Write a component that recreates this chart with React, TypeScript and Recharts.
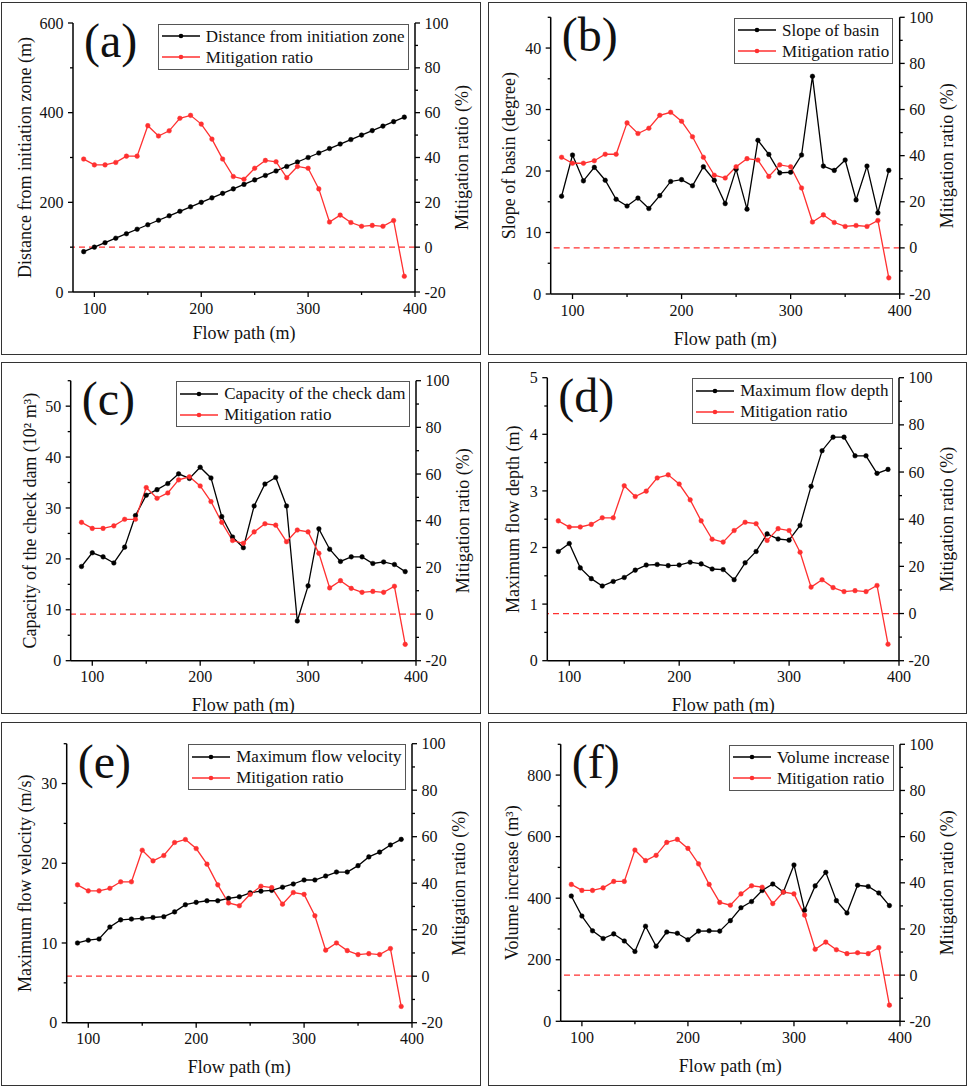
import { Line, LineChart, ReferenceLine, XAxis, YAxis } from "recharts";

const flowPath = [
  90, 100, 110, 120, 130, 140, 150, 160, 170, 180, 190, 200, 210, 220, 230, 240,
  250, 260, 270, 280, 290, 300, 310, 320, 330, 340, 350, 360, 370, 380, 390,
];
const mitigationRatio = [
  39.3, 36.7, 36.7, 37.8, 40.6, 40.6, 54.2, 49.6, 51.9, 57.5, 58.8, 54.9, 48.2,
  39.3, 31.5, 30.3, 35.2, 38.7, 38.1, 31.0, 36.0, 35.2, 26.0, 11.2, 14.3, 11.0,
  9.3, 9.7, 9.3, 11.9, -13.0,
];
const distance = [
  90, 100, 110, 120, 130, 140, 150, 160, 170, 180, 190, 200, 210, 220, 230, 240,
  250, 260, 270, 280, 290, 300, 310, 320, 330, 340, 350, 360, 370, 380, 390,
];
const slope = [
  15.9, 22.6, 18.4, 20.6, 18.5, 15.4, 14.3, 15.6, 13.9, 16.0, 18.3, 18.6, 17.6,
  20.7, 18.5, 14.7, 20.3, 13.8, 25.0, 22.7, 19.7, 19.8, 22.6, 35.4, 20.8, 20.1,
  21.8, 15.3, 20.8, 13.2, 20.1,
];
const capacity = [
  18.5, 21.2, 20.4, 19.2, 22.3, 28.5, 32.5, 33.6, 34.8, 36.7, 35.8, 38.0, 35.9,
  28.3, 24.3, 22.2, 30.4, 34.7, 36.0, 30.4, 7.8, 14.7, 25.9, 21.9, 19.5, 20.4,
  20.4, 19.1, 19.4, 18.9, 17.5,
];
const flowDepth = [
  1.93, 2.07, 1.64, 1.45, 1.32, 1.4, 1.47, 1.6, 1.69, 1.7, 1.68, 1.69, 1.74,
  1.71, 1.62, 1.61, 1.43, 1.73, 1.93, 2.24, 2.15, 2.13, 2.39, 3.08, 3.71, 3.95,
  3.95, 3.62, 3.62, 3.31, 3.38,
];
const flowVelocity = [
  10.0, 10.35, 10.5, 12.0, 12.9, 13.0, 13.1, 13.2, 13.3, 13.9, 14.8, 15.1, 15.3,
  15.3, 15.6, 15.8, 16.3, 16.5, 16.6, 17.0, 17.4, 17.9, 17.9, 18.4, 18.9, 18.9,
  19.7, 20.8, 21.4, 22.3, 23.0,
];
const volumeIncrease = [
  407, 342, 294, 269, 284, 261, 227, 309, 244, 290, 286, 265, 293, 294, 293, 327,
  369, 389, 425, 446, 420, 508, 361, 440, 484, 392, 352, 442, 438, 417, 376,
];

const xTicks = [100, 150, 200, 250, 300, 350, 400];
const ratioTicks = [-20, -10, 0, 10, 20, 30, 40, 50, 60, 70, 80, 90, 100];
const distanceTicks = [0, 100, 200, 300, 400, 500, 600];
const slopeTicks = [0, 5, 10, 15, 20, 25, 30, 35, 40, 45];
const capacityTicks = [0, 5, 10, 15, 20, 25, 30, 35, 40, 45, 50, 55];
const depthTicks = [0, 0.5, 1, 1.5, 2, 2.5, 3, 3.5, 4, 4.5, 5];
const velocityTicks = [0, 5, 10, 15, 20, 25, 30, 35];
const volumeTicks = [0, 100, 200, 300, 400, 500, 600, 700, 800, 900];

const FONT = "'Liberation Serif', 'Times New Roman', serif";
const RED = "#ff3030";

const PANELS = [
  { tag: "(a)", name: "Distance from initiation zone", title: "Distance from initiation zone (m)", values: distance, ticks: distanceTicks, major: 200,
    left: 1, top: 2, w: 480, h: 353, L: 72, R: 414, T: 21, B: 290, ty: 24, ry: 460.7, xb: 337.3 },
  { tag: "(b)", name: "Slope of basin", title: "Slope of basin (degree)", values: slope, ticks: slopeTicks, major: 10,
    left: 488, top: 2, w: 479, h: 353, L: 62.7, R: 411.7, T: 15.3, B: 292, ty: 21, ry: 458.7, xb: 343 },
  { tag: "(c)", name: "Capacity of the check dam", title: "Capacity of the check dam (10\u00b2 m\u00b3)", values: capacity, ticks: capacityTicks, major: 10,
    left: 1, top: 362, w: 480, h: 352, L: 69.7, R: 415, T: 18.7, B: 298.7, ty: 29, ry: 462, xb: 348.7 },
  { tag: "(d)", name: "Maximum flow depth", title: "Maximum flow depth (m)", values: flowDepth, ticks: depthTicks, major: 1,
    left: 488, top: 362, w: 479, h: 352, L: 59.3, R: 411, T: 15.7, B: 298.7, ty: 25, ry: 458.7, xb: 348.7 },
  { tag: "(e)", name: "Maximum flow velocity", title: "Maximum flow velocity (m/s)", values: flowVelocity, ticks: velocityTicks, major: 10,
    left: 1, top: 722, w: 480, h: 364, L: 65.7, R: 411, T: 21.7, B: 300.7, ty: 24, ry: 457.3, xb: 350.7 },
  { tag: "(f)", name: "Volume increase", title: "Volume increase (m\u00b3)", values: volumeIncrease, ticks: volumeTicks, major: 200,
    left: 488, top: 722, w: 479, h: 364, L: 72.7, R: 412, T: 22.3, B: 299.3, ty: 24, ry: 458.7, xb: 350 },
];

const isMajor = (v: number, major: number) =>
  Math.abs(v / major - Math.round(v / major)) < 1e-6;

const makeTick = (side: "left" | "right" | "bottom", major: number) => (props: any) => {
  const { x, y, payload } = props;
  const v = payload.value as number;
  const big = isMajor(v, major);
  const len = big ? 5 : 3;
  const textStyle = { fontFamily: FONT, fontSize: 16, fill: "#111" };
  if (side === "bottom") {
    return (
      <g>
        <line x1={x} y1={y} x2={x} y2={y + len} stroke="#000" strokeWidth={1.3} />
        {big && (
          <text x={x} y={y + 21.5} textAnchor="middle" style={textStyle}>
            {v}
          </text>
        )}
      </g>
    );
  }
  const dir = side === "left" ? -1 : 1;
  return (
    <g>
      <line x1={x} y1={y} x2={x + dir * len} y2={y} stroke="#000" strokeWidth={1.3} />
      {big && (
        <text x={x + dir * 9.5} y={y} dy="0.35em" textAnchor={side === "left" ? "end" : "start"} style={textStyle}>
          {v}
        </text>
      )}
    </g>
  );
};

const LegendKey = ({ color }: { color: string }) => (
  <svg width={38} height={10} style={{ display: "block" }}>
    <line x1={0} y1={5} x2={38} y2={5} stroke={color} strokeWidth={1.4} />
    <circle cx={19} cy={5} r={2.3} fill={color} />
  </svg>
);

const Panel = ({ p }: { p: (typeof PANELS)[number] }) => {
  const rows = flowPath.map((x, i) => ({ x, value: p.values[i], ratio: mitigationRatio[i] }));
  const titleStyle = { fontFamily: FONT, fontSize: 18, fill: "#111", textAnchor: "middle" as const };
  return (
    <div style={{ position: "absolute", left: p.left, top: p.top, width: p.w, height: p.h }}>
      <div
        style={{
          position: "absolute",
          inset: 0,
          border: "1.5px solid #333",
          boxSizing: "border-box",
          pointerEvents: "none",
        }}
      />
      <LineChart width={p.w} height={p.h} data={rows} margin={{ top: p.T, right: 0, bottom: 0, left: 0 }}>
        <XAxis
          dataKey="x"
          type="number"
          domain={[80, 400]}
          ticks={xTicks}
          interval={0}
          height={p.h - p.B}
          tickSize={0}
          tickMargin={0}
          tickLine={false}
          axisLine={{ stroke: "#000", strokeWidth: 1.5 }}
          tick={makeTick("bottom", 100)}
          label={{ value: "Flow path (m)", position: "insideBottom", offset: p.h - p.xb, style: titleStyle }}
        />
        <YAxis
          yAxisId="left"
          orientation="left"
          type="number"
          domain={[p.ticks[0], p.ticks[p.ticks.length - 1]]}
          ticks={p.ticks}
          interval={0}
          width={p.L}
          tickSize={0}
          tickMargin={0}
          tickLine={false}
          axisLine={{ stroke: "#000", strokeWidth: 1.5 }}
          tick={makeTick("left", p.major)}
          label={{ value: p.title, angle: -90, position: "insideLeft", offset: p.ty, style: titleStyle }}
        />
        <YAxis
          yAxisId="right"
          orientation="right"
          type="number"
          domain={[-20, 100]}
          ticks={ratioTicks}
          interval={0}
          width={p.w - p.R}
          tickSize={0}
          tickMargin={0}
          tickLine={false}
          axisLine={{ stroke: "#000", strokeWidth: 1.5 }}
          tick={makeTick("right", 20)}
          label={{ value: "Mitigation ratio (%)", angle: -90, position: "insideRight", offset: p.w - p.ry, style: titleStyle }}
        />
        <ReferenceLine yAxisId="right" y={0} stroke={RED} strokeWidth={1.3} strokeDasharray="6 4" />
        <Line
          yAxisId="left"
          dataKey="value"
          stroke="#000"
          strokeWidth={1.3}
          dot={{ r: 2.3, fill: "#000", stroke: "#000", strokeWidth: 0.5 }}
          activeDot={false}
          isAnimationActive={false}
        />
        <Line
          yAxisId="right"
          dataKey="ratio"
          stroke={RED}
          strokeWidth={1.3}
          dot={{ r: 2.3, fill: RED, stroke: RED, strokeWidth: 0.5 }}
          activeDot={false}
          isAnimationActive={false}
        />
      </LineChart>
      <div
        style={{
          position: "absolute",
          left: p.L + 11,
          top: p.T - 6,
          fontFamily: FONT,
          fontSize: 48,
          lineHeight: 1,
          color: "#111",
        }}
      >
        {p.tag}
      </div>
      <div
        style={{
          position: "absolute",
          right: p.w - p.R + 6.5,
          top: p.T + 0.5,
          border: "1.5px solid #555",
          background: "#fff",
          padding: "1px 3px 1px 3px",
          fontFamily: FONT,
          fontSize: 17,
          color: "#111",
          whiteSpace: "nowrap",
        }}
      >
        {[
          { label: p.name, color: "#000" },
          { label: "Mitigation ratio", color: RED },
        ].map((item) => (
          <div key={item.label} style={{ display: "flex", alignItems: "center", height: 21 }}>
            <LegendKey color={item.color} />
            <span style={{ marginLeft: 6, lineHeight: "21px" }}>{item.label}</span>
          </div>
        ))}
      </div>
    </div>
  );
};

export default function App() {
  return (
    <div style={{ position: "absolute", left: 0, top: 0, width: 969, height: 1089, background: "#fff" }}>
      {PANELS.map((p) => (
        <Panel key={p.tag} p={p} />
      ))}
    </div>
  );
}
